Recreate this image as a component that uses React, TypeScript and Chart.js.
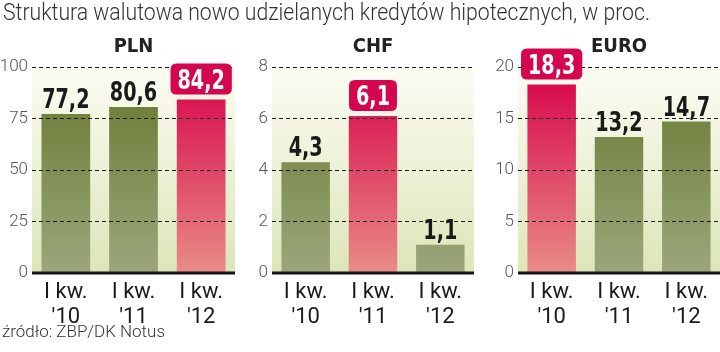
import React, { useEffect, useLayoutEffect, useRef } from 'react';
import { Chart, registerables } from 'chart.js';
Chart.register(...registerables);

const TITLE = 'Struktura walutowa nowo udzielanych kredytów hipotecznych, w proc.';
const SOURCE = 'źródło: ZBP/DK Notus';
const categories = [['I kw.', "'10"], ['I kw.', "'11"], ['I kw.', "'12"]];
const panelNames = ['PLN', 'CHF', 'EURO'];
const plnValues = [77.2, 80.6, 84.2];
const chfValues = [4.3, 6.1, 1.1];
const euroValues = [18.3, 13.2, 14.7];
const highlighted = [2, 1, 0];
const yMaxes = [100, 8, 20];
const ySteps = [25, 2, 5];

const panelLayout = [
  { left: 0, width: 240, axisWidth: 32, padRight: 5 },
  { left: 240, width: 240, axisWidth: 32, padRight: 6 },
  { left: 480, width: 240, axisWidth: 38, padRight: 0 },
];

const COND = '"DejaVu Sans Condensed", "DejaVu Sans", sans-serif';
const ROBOTO = 'Roboto, "Noto Sans", sans-serif';

function vertGrad(chart: any, c1: string, c2: string) {
  const a = chart.chartArea;
  if (!a) return c1;
  const g = chart.ctx.createLinearGradient(0, a.top, 0, a.bottom);
  g.addColorStop(0, c1);
  g.addColorStop(1, c2);
  return g;
}

function roundRect(ctx: CanvasRenderingContext2D, x: number, y: number, w: number, h: number, r: number) {
  ctx.beginPath();
  ctx.moveTo(x + r, y);
  ctx.lineTo(x + w - r, y);
  ctx.quadraticCurveTo(x + w, y, x + w, y + r);
  ctx.lineTo(x + w, y + h - r);
  ctx.quadraticCurveTo(x + w, y + h, x + w - r, y + h);
  ctx.lineTo(x + r, y + h);
  ctx.quadraticCurveTo(x, y + h, x, y + h - r);
  ctx.lineTo(x, y + r);
  ctx.quadraticCurveTo(x, y, x + r, y);
  ctx.closePath();
}

function Panel({ idx }: { idx: number }) {
  const ref = useRef<HTMLCanvasElement>(null);
  useEffect(() => {
    const values = [plnValues, chfValues, euroValues][idx];
    const hi = highlighted[idx];
    const lay = panelLayout[idx];
    const SX = 0.82;
    const decor = {
      id: 'decor',
      beforeDatasetsDraw(chart: any) {
        const a = chart.chartArea;
        const ctx = chart.ctx;
        ctx.save();
        ctx.fillStyle = vertGrad(chart, '#fcfcf3', '#dde5b8');
        ctx.fillRect(a.left, a.top, a.right - a.left, a.bottom - a.top);
        ctx.restore();
      },
      afterDraw(chart: any) {
        const a = chart.chartArea;
        const ctx = chart.ctx;
        const y0 = chart.scales.y.getPixelForValue(0);
        ctx.save();
        ctx.strokeStyle = '#151515';
        ctx.lineWidth = 3;
        ctx.beginPath();
        ctx.moveTo(a.left, y0);
        ctx.lineTo(a.right, y0);
        ctx.stroke();
        // panel title
        ctx.fillStyle = '#222';
        ctx.font = 'bold 20px ' + COND;
        ctx.textAlign = 'center';
        ctx.textBaseline = 'alphabetic';
        ctx.fillText(panelNames[idx], (a.left + a.right) / 2, 52);
        // value labels
        const meta = chart.getDatasetMeta(0);
        ctx.font = 'bold 26px ' + COND;
        meta.data.forEach((bar: any, i: number) => {
          const txt = values[i].toFixed(1).replace('.', ',');
          const w = ctx.measureText(txt).width * SX;
          let base: number;
          if (i === hi) {
            base = bar.y - 11;
            ctx.fillStyle = '#d3064e';
            roundRect(ctx, bar.x - w / 2 - 7, base - 25, w + 14, 31, 6);
            ctx.fill();
            ctx.fillStyle = '#ffffff';
          } else {
            base = bar.y - 6;
            ctx.fillStyle = '#1a1a1a';
          }
          ctx.save();
          ctx.translate(bar.x, base);
          ctx.scale(SX, 1);
          ctx.fillText(txt, 0, 0);
          ctx.restore();
        });
        ctx.restore();
      },
    };
    const chart = new Chart(ref.current!, {
      type: 'bar',
      data: {
        labels: categories,
        datasets: [
          {
            data: values,
            backgroundColor: (c: any) =>
              c.dataIndex === hi
                ? vertGrad(c.chart, '#d6004a', '#e98c86')
                : vertGrad(c.chart, '#66772d', '#9ba77b'),
            borderWidth: 0,
            barPercentage: 0.72,
            categoryPercentage: 1,
          },
        ],
      },
      options: {
        responsive: false,
        animation: false,
        layout: { padding: { top: 67, bottom: 0, left: 0, right: lay.padRight }, autoPadding: false },
        plugins: { legend: { display: false }, tooltip: { enabled: false }, title: { display: false } },
        scales: {
          x: {
            grid: { display: false, drawTicks: false },
            border: { display: false },
            ticks: {
              font: { family: ROBOTO, size: 22, lineHeight: 1.15 },
              color: '#1a1a1a',
              padding: 7,
              maxRotation: 0,
              autoSkip: false,
            },
            afterFit(s: any) {
              s.height = 79;
            },
          },
          y: {
            min: 0,
            max: yMaxes[idx],
            ticks: {
              stepSize: ySteps[idx],
              font: { family: ROBOTO, size: 17, weight: '300' },
              color: '#555',
              padding: 4,
            },
            grid: {
              z: 1,
              color: (c: any) => (c.tick && c.tick.value === 0 ? 'rgba(0,0,0,0)' : '#1a1a1a'),
              lineWidth: 1,
              drawTicks: false,
            },
            border: { display: false, dash: [4, 3] },
            afterFit(s: any) {
              s.width = lay.axisWidth;
            },
          },
        },
      },
      plugins: [decor],
    } as any);
    return () => chart.destroy();
  }, [idx]);
  const lay = panelLayout[idx];
  return (
    <canvas
      ref={ref}
      width={lay.width}
      height={352}
      style={{ position: 'absolute', left: lay.left, top: 0, width: lay.width, height: 352 }}
    />
  );
}

function FitText({ text, width, style }: { text: string; width: number; style: any }) {
  const ref = useRef<HTMLSpanElement>(null);
  useLayoutEffect(() => {
    const el = ref.current!;
    el.style.transform = 'none';
    const w = el.getBoundingClientRect().width;
    if (w > 0) el.style.transform = `scaleX(${width / w})`;
  }, [text, width]);
  return (
    <span
      ref={ref}
      style={{ ...style, position: 'absolute', display: 'inline-block', transformOrigin: '0 0', whiteSpace: 'nowrap' }}
    >
      {text}
    </span>
  );
}

export default function App() {
  return (
    <div style={{ position: 'absolute', left: 0, top: 0, width: 720, height: 352, background: '#fff', overflow: 'hidden' }}>
      <Panel idx={0} />
      <Panel idx={1} />
      <Panel idx={2} />
      <FitText
        text={TITLE}
        width={647}
        style={{ left: 3, top: 0, fontFamily: ROBOTO, fontWeight: 300, fontSize: 23, lineHeight: '26px', color: '#333' }}
      />
      <FitText
        text={SOURCE}
        width={163}
        style={{ left: 2, top: 323, fontFamily: ROBOTO, fontWeight: 300, fontSize: 16, lineHeight: '18px', color: '#333' }}
      />
    </div>
  );
}
